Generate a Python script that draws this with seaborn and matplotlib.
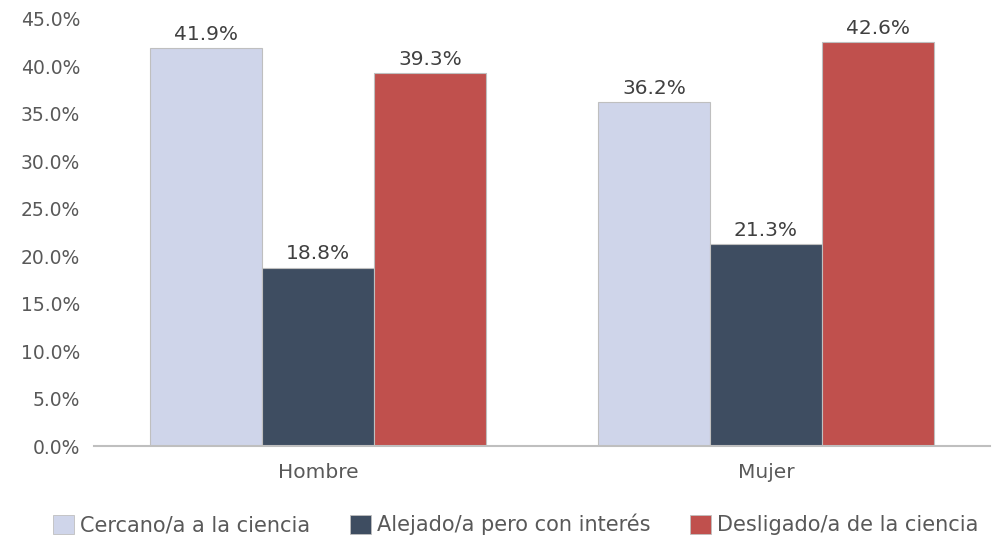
import matplotlib
matplotlib.use("Agg")
import matplotlib.pyplot as plt
import seaborn as sns
import pandas as pd
from matplotlib.patches import Patch

categories = ["Hombre", "Mujer"]
series = ["Cercano/a a la ciencia", "Alejado/a pero con interés", "Desligado/a de la ciencia"]
cercano = [41.9, 36.2]
alejado = [18.8, 21.3]
desligado = [39.3, 42.6]
yticks = [0, 5, 10, 15, 20, 25, 30, 35, 40, 45]

colors = ["#CFD5EA", "#3E4D61", "#C0504D"]
text_color = "#595959"

rows = []
for s, vals in zip(series, [cercano, alejado, desligado]):
    for c, v in zip(categories, vals):
        rows.append({"cat": c, "serie": s, "val": v})
df = pd.DataFrame(rows)

sns.set_style("white")
plt.rcParams["font.family"] = ["DejaVu Sans"]

fig = plt.figure(figsize=(9.92, 5.42), dpi=100)
ax = fig.add_axes([0.0948, 0.177, 0.903, 0.788])

sns.barplot(data=df, x="cat", y="val", hue="serie", order=categories,
            hue_order=series, palette=colors, saturation=1, width=0.75, ax=ax,
            edgecolor="#BFBFBF", linewidth=0.8, legend=False, errorbar=None)

for cont in ax.containers:
    ax.bar_label(cont, labels=[f"{v:.1f}%" for v in cont.datavalues],
                 padding=3, fontsize=14.5, color="#404040")

ax.set_xlim(-0.5, 1.5)
ax.set_ylim(0, 45)
ax.set_yticks(yticks)
ax.set_yticklabels([f"{v:.1f}%" for v in yticks], fontsize=13.5, color=text_color)
ax.tick_params(axis="x", labelsize=14.5, colors=text_color, length=0, pad=12)
ax.tick_params(axis="y", length=0, pad=10)
ax.set_xlabel("")
ax.set_ylabel("")
for sp in ["top", "right", "left"]:
    ax.spines[sp].set_visible(False)
ax.spines["bottom"].set_color("#BFBFBF")
ax.spines["bottom"].set_linewidth(1.5)

handles = [Patch(facecolor=c, edgecolor="#BFBFBF", linewidth=0.6) for c in colors]
fig.legend(handles, series, loc="center", bbox_to_anchor=(0.52, 0.032), ncol=3,
           frameon=False, fontsize=15, labelcolor=text_color,
           handlelength=1.0, handleheight=1.0, handletextpad=0.3, columnspacing=1.9)

fig.savefig("out.png", dpi=100)
